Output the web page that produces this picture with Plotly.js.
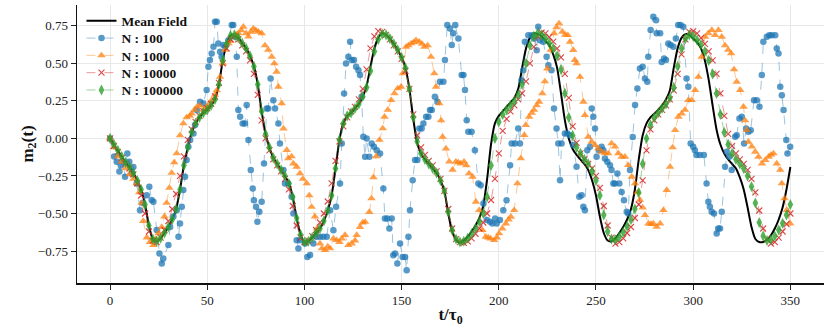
<!DOCTYPE html>
<html>
<head>
<meta charset="utf-8">
<script src="https://cdn.plot.ly/plotly-3.0.1.min.js"></script>
<style>html,body{margin:0;padding:0;background:#fff;}#chart{width:830px;height:336px;}</style>
</head>
<body>
<div id="chart"></div>
<script>
// time grid (t/tau0) shared by the mean-field curve and the N=10000 / N=100000 runs
const tGrid = [];
for (let t = 0; t <= 350; t += 2) tGrid.push(t);

const meanField = [
  0, -0.04, -0.08, -0.12, -0.16, -0.19, -0.23, -0.28, -0.34, -0.44,
  -0.58, -0.67, -0.685, -0.665, -0.63, -0.59, -0.54, -0.47, -0.34, -0.18,
  -0.06, 0.04, 0.10, 0.14, 0.17, 0.19, 0.22, 0.26, 0.36, 0.52,
  0.63, 0.685, 0.69, 0.67, 0.635, 0.6, 0.55, 0.48, 0.36, 0.18,
  0.03, -0.06, -0.13, -0.17, -0.21, -0.25, -0.3, -0.39, -0.53, -0.64,
  -0.69, -0.685, -0.66, -0.63, -0.6, -0.55, -0.48, -0.38, -0.2, -0.01,
  0.10, 0.15, 0.17, 0.2, 0.23, 0.28, 0.35, 0.48, 0.6, 0.67,
  0.7, 0.69, 0.665, 0.63, 0.59, 0.54, 0.47, 0.33, 0.13, -0.03,
  -0.1, -0.14, -0.17, -0.2, -0.23, -0.28, -0.35, -0.5, -0.62, -0.675,
  -0.695, -0.68, -0.655, -0.62, -0.58, -0.53, -0.45, -0.27, -0.04, 0.1,
  0.15, 0.18, 0.21, 0.24, 0.27, 0.33, 0.47, 0.6, 0.67, 0.7,
  0.695, 0.68, 0.65, 0.62, 0.56, 0.47, 0.3, 0.12, 0.0, -0.07,
  -0.11, -0.14, -0.17, -0.21, -0.28, -0.38, -0.52, -0.63, -0.68, -0.685,
  -0.665, -0.63, -0.59, -0.54, -0.47, -0.34, -0.14, 0.02, 0.1, 0.14,
  0.165, 0.19, 0.22, 0.26, 0.32, 0.47, 0.6, 0.67, 0.695, 0.69,
  0.665, 0.64, 0.6, 0.52, 0.39, 0.22, 0.06, -0.04, -0.1, -0.14,
  -0.17, -0.2, -0.26, -0.34, -0.46, -0.59, -0.67, -0.69, -0.69, -0.675,
  -0.645, -0.6, -0.54, -0.46, -0.34, -0.19
];

const m100000 = [
  0, -0.04, -0.08, -0.12, -0.16, -0.19, -0.23, -0.28, -0.34, -0.44,
  -0.58, -0.67, -0.685, -0.665, -0.63, -0.59, -0.54, -0.47, -0.34, -0.18,
  -0.06, 0.04, 0.10, 0.14, 0.17, 0.19, 0.22, 0.26, 0.36, 0.52,
  0.63, 0.685, 0.69, 0.67, 0.635, 0.6, 0.55, 0.48, 0.36, 0.18,
  0.03, -0.06, -0.13, -0.17, -0.21, -0.25, -0.3, -0.39, -0.53, -0.64,
  -0.69, -0.685, -0.66, -0.63, -0.6, -0.55, -0.48, -0.38, -0.2, -0.01,
  0.10, 0.15, 0.17, 0.2, 0.23, 0.28, 0.34, 0.45, 0.58, 0.66,
  0.695, 0.69, 0.665, 0.63, 0.59, 0.54, 0.47, 0.33, 0.14, -0.02,
  -0.1, -0.14, -0.17, -0.2, -0.23, -0.28, -0.35, -0.49, -0.61, -0.67,
  -0.69, -0.685, -0.665, -0.635, -0.6, -0.555, -0.5, -0.39, -0.18, 0.0,
  0.11, 0.16, 0.19, 0.22, 0.25, 0.29, 0.36, 0.5, 0.62, 0.68,
  0.7, 0.69, 0.665, 0.635, 0.6, 0.55, 0.46, 0.3, 0.14, 0.02,
  -0.06, -0.1, -0.14, -0.17, -0.22, -0.28, -0.38, -0.51, -0.62, -0.67,
  -0.675, -0.655, -0.625, -0.585, -0.54, -0.47, -0.36, -0.17, 0.0, 0.09,
  0.14, 0.17, 0.2, 0.23, 0.27, 0.34, 0.48, 0.6, 0.665, 0.69,
  0.68, 0.655, 0.625, 0.58, 0.52, 0.43, 0.3, 0.16, 0.04, -0.04,
  -0.1, -0.14, -0.17, -0.2, -0.25, -0.32, -0.43, -0.56, -0.65, -0.68,
  -0.675, -0.65, -0.61, -0.565, -0.51, -0.44
];

const m10000 = [
  0, -0.05, -0.09, -0.13, -0.17, -0.2, -0.24, -0.3, -0.38, -0.5,
  -0.62, -0.68, -0.69, -0.66, -0.61, -0.55, -0.47, -0.37, -0.25, -0.12,
  -0.01, 0.06, 0.11, 0.15, 0.18, 0.2, 0.23, 0.28, 0.37, 0.5,
  0.6, 0.66, 0.68, 0.66, 0.62, 0.58, 0.52, 0.43, 0.29, 0.12,
  0.0, -0.08, -0.14, -0.18, -0.22, -0.27, -0.34, -0.45, -0.58, -0.66,
  -0.69, -0.68, -0.65, -0.61, -0.56, -0.5, -0.42, -0.3, -0.15, -0.02,
  0.08, 0.14, 0.18, 0.21, 0.26, 0.33, 0.46, 0.6, 0.68, 0.715,
  0.71, 0.69, 0.66, 0.62, 0.58, 0.53, 0.45, 0.33, 0.16, 0.02,
  -0.06, -0.11, -0.15, -0.18, -0.22, -0.27, -0.35, -0.47, -0.6, -0.67,
  -0.69, -0.695, -0.685, -0.665, -0.635, -0.6, -0.56, -0.5, -0.41, -0.27,
  -0.1, 0.05, 0.13, 0.18, 0.22, 0.26, 0.3, 0.38, 0.5, 0.61,
  0.68, 0.705, 0.7, 0.675, 0.645, 0.6, 0.54, 0.43, 0.27, 0.08,
  -0.03, -0.1, -0.14, -0.17, -0.2, -0.25, -0.33, -0.45, -0.58, -0.66,
  -0.7, -0.69, -0.665, -0.63, -0.59, -0.53, -0.44, -0.28, -0.08, 0.06,
  0.12, 0.16, 0.19, 0.22, 0.26, 0.32, 0.43, 0.56, 0.66, 0.71,
  0.715, 0.7, 0.67, 0.63, 0.58, 0.52, 0.43, 0.3, 0.15, 0.03,
  -0.05, -0.1, -0.14, -0.17, -0.21, -0.27, -0.36, -0.48, -0.6, -0.67,
  -0.7, -0.69, -0.66, -0.62, -0.57, -0.5
];

const orangeT = [
  0,2,4,6,8,10,12,13.7,15,16.3,
  17.1,18.9,20.5,22.3,23.5,25,26.6,28,29.1,30.5,
  31.7,33,34.3,36,37.7,39.4,41,42,43.5,44.6,
  46.3,48,49.7,51,52.3,54,54.9,56.6,58,59.2,
  60.9,62,63.4,65,66,67.5,68.6,70,71.2,72.5,
  73.7,75,76.3,78,79.7,81.4,83.2,84.5,85.7,86.6,
  88.3,89.2,90.9,91.7,93.4,94.3,96,97.7,99.2,101.2,
  102.5,103.7,105.4,106.5,108,109,110.6,112,113.2,114.9,
  116.6,118,119.2,120.9,122.6,124.3,126,126.9,128.6,130,
  131.2,133.4,134.5,135.5,136.9,138.6,140.3,141.2,142.9,144.6,
  146.3,148,149.7,150.6,152.3,153.5,154.9,156.2,157.4,159.1,
  160.5,161.7,163.4,165.1,166.8,167.7,169.4,170.3,171.1,172.8,
  174.5,176.2,177.9,179.2,180.4,182.1,183.3,184.7,186.5,188.2,
  189.9,191.6,193.3,194.6,195.8,197.6,199,200.1,201.8,203.6,
  205,206.2,207.9,209.6,211.3,213.1,213.9,215.6,217,218.1,
  219.5,220.7,222.4,223.7,225,226.7,228.4,229.7,231,232.7,
  234.2,235.5,236.6,238.3,239.1,240,241.8,243.5,244.3,246,
  247.8,249.5,251.2,252.9,254.6,256.3,258,259.8,261.5,263.2,
  264.9,266.6,268.4,270.1,271.3,272.6,274,275.2,277,278.3,
  279.5,281.2,283,284.7,286.4,288.1,289.4,290.7,292.4,294.1,
  295.8,297.5,299.2,301,302.7,304.4,306.1,307.8,309.6,311.3,
  313,314.7,316.4,318,319.5,321,322.4,324.2,325.9,326.7,
  327.5,328.4,330.2,331.9,333.6,335.4,337.1,338.8,340,341.3,
  343,344.8,345.6,347,348.2,349.9
];
const m1000 = [
  0,-0.06,-0.12,-0.156,-0.2,-0.24,-0.27,-0.3,-0.36,-0.43,
  -0.55,-0.66,-0.69,-0.71,-0.67,-0.63,-0.59,-0.52,-0.43,-0.33,
  -0.23,-0.16,-0.1,0.02,0.1,0.14,0.15,0.166,0.19,0.21,
  0.22,0.19,0.21,0.23,0.255,0.29,0.32,0.41,0.5,0.59,
  0.633,0.65,0.678,0.69,0.7,0.72,0.744,0.7,0.678,0.71,
  0.733,0.72,0.71,0.7,0.62,0.59,0.544,0.5,0.444,0.344,
  0.233,0.066,-0.077,-0.133,-0.12,-0.167,-0.189,-0.233,-0.27,-0.3,
  -0.38,-0.456,-0.52,-0.6,-0.7,-0.733,-0.744,-0.72,-0.733,-0.667,
  -0.678,-0.69,-0.667,-0.644,-0.711,-0.7,-0.68,-0.644,-0.59,-0.56,
  -0.556,-0.49,-0.4,-0.26,-0.12,-0.01,0.067,0.144,0.19,0.255,
  0.3,0.333,0.344,0.433,0.61,0.62,0.633,0.64,0.655,0.644,
  0.63,0.61,0.62,0.544,0.433,0.344,0.233,0.12,0.01,-0.067,
  -0.155,-0.21,-0.155,-0.16,-0.167,-0.155,-0.18,-0.233,-0.256,-0.422,
  -0.478,-0.611,-0.655,-0.66,-0.667,-0.678,-0.66,-0.633,-0.6,-0.567,
  -0.54,-0.522,-0.478,-0.3,-0.133,0.022,0.089,0.144,0.17,0.19,
  0.22,0.244,0.3,0.38,0.466,0.59,0.7,0.74,0.766,0.71,
  0.69,0.688,0.644,0.589,0.522,0.5,0.41,0.244,0.155,0.01,
  -0.022,-0.044,-0.067,-0.089,-0.1,-0.1,-0.033,-0.055,-0.1,-0.122,
  -0.122,-0.178,-0.256,-0.3,-0.36,-0.41,-0.46,-0.511,-0.567,-0.57,
  -0.567,-0.589,-0.567,-0.478,-0.344,-0.189,-0.06,0.055,0.144,0.166,
  0.19,0.255,0.255,0.322,0.41,0.544,0.677,0.7,0.722,0.688,
  0.722,0.677,0.62,0.59,0.566,0.46,0.377,0.322,0.211,0.12,
  0.055,-0.022,-0.055,-0.089,-0.122,-0.167,-0.144,-0.122,-0.11,-0.1,
  -0.167,-0.21,-0.3,-0.4,-0.477,-0.567
];

const blueT = [
  0,2.1,3.4,4.8,5.5,6.9,7.7,8.9,9.9,11.1,
  12,13.7,15.4,16.8,18.9,20.2,21.4,22.3,24,25.4,
  26.6,27.4,30,30.9,32.6,34.3,35.2,36,36.9,37.7,
  38.6,39.4,40.3,41.2,42.9,43.7,44.6,46.3,48,49.7,
  50.6,51.4,52.3,53.2,54,54.9,55.7,56.6,57.4,58.3,
  59.2,60.9,62.6,63.4,64.3,65.2,66,66.9,68.2,69.4,
  70.3,71.2,72.4,73.4,74,75.1,75.8,76.8,78,79.2,
  80.6,81.4,82.6,84,84.9,86.6,87.4,89.2,90,91.7,
  93.4,94.3,96,96.9,97.7,100.3,101.5,102.9,104.6,106.3,
  108,109.7,111.5,
  113.2,114.9,116.3,118.3,119.2,120.4,121.4,122.6,123.5,124.3,
  125.5,126.6,127.8,128.6,129.4,130.3,131.2,132,133.4,134.6,
  135.8,137.2,138.9,140.6,141.4,142.6,143.7,144.9,145.7,146.6,
  147.8,149.2,150.5,151.8,152.6,153.5,154.3,155.7,156.9,158.1,
  159.1,160.3,161.2,162.6,163.8,164.6,165.5,167.1,168.4,169.7,
  171.5,172.3,173.5,174.9,175.8,176.6,177.6,179.2,180.9,181.8,
  182.6,183.5,184.3,186,187.7,189.5,190.7,192.1,193.8,195.5,
  196.7,198.1,198.9,200.6,202.3,204,205.8,206.6,208.3,210,
  210.9,211.7,212.6,213.4,215.2,216.9,218.1,219.5,220.3,221.2,
  222.8,224.6,225.5,227.1,228.4,229.7,230.6,
  231.5,232.3,234,235.3,236.6,238.3,240,241.4,242.6,243.5,
  244.3,245.5,246.9,247.8,248.6,249.5,250.3,251.7,252.9,253.8,
  254.6,255.8,257.2,258,258.9,259.8,261,262,263.2,264.4,
  265.8,266.6,267.5,268.9,270.1,271.3,272.6,274,275.2,276.4,
  276.9,278.1,279.5,280.9,281.2,283,283.8,285,286,287.2,
  288.4,289.8,291.1,292.3,293.5,294.9,296.6,297.5,298.7,300,
  300.9,301.7,303.4,305.5,306.9,307.8,308.6,309.5,310.7,312.1,
  312.9,313.8,314.7,316.4,317.3,318.6,319.8,321.6,322.4,323.8,
  325,326.2,327.2,328.4,329.6,331.3,332.7,334.1,335.3,336.1,
  337.9,339.2,340.4,342.2,343,343.9,344.8,345.6,346.5,347.9,
  348.5,349.9
];
const m100 = [
  0,-0.12,-0.156,-0.22,-0.18,-0.156,-0.256,-0.1,-0.156,-0.233,
  -0.19,-0.3,-0.478,-0.43,-0.378,-0.322,-0.41,-0.422,-0.61,-0.766,
  -0.833,-0.8,-0.71,-0.59,-0.52,-0.478,-0.655,-0.566,-0.455,-0.344,
  -0.256,-0.144,-0.055,-0.011,0.033,0.089,0.19,0.244,0.233,0.322,
  0.478,0.522,0.566,0.611,0.777,0.777,0.633,0.577,0.544,0.622,
  0.611,0.655,0.755,0.755,0.677,0.544,0.189,0.144,0.1,0.1,
  0.222,-0.011,-0.211,-0.333,-0.411,-0.455,-0.555,-0.489,-0.422,-0.167,
  0.2,0.2,0.4,0.255,0.2,0.1,-0.033,-0.211,-0.3,-0.3,
  -0.389,-0.5,-0.678,-0.733,-0.678,-0.7,-0.789,-0.777,-0.7,-0.655,
  -0.655,-0.655,-0.655,
  -0.478,-0.611,-0.455,-0.3,-0.033,0.3,0.5,0.544,0.644,0.522,
  0.522,0.477,0.455,0.422,0.278,0.011,-0.122,0,-0.122,-0.033,
  -0.055,-0.078,-0.1,-0.333,-0.533,-0.533,-0.6,-0.533,-0.778,-0.766,
  -0.833,-0.7,-0.79,-0.79,-0.878,-0.655,-0.478,-0.278,-0.144,-0.144,
  0.066,0.066,0.1,0.144,0.144,0.189,0.189,0.277,0.244,0.377,
  0.377,0.522,0.755,0.733,0.622,0.7,0.755,0.666,0.422,0.422,
  0.322,0.122,0.044,0.044,-0.078,-0.3,-0.311,-0.433,-0.544,-0.555,
  -0.566,-0.533,-0.566,-0.544,-0.478,-0.411,-0.178,-0.033,-0.033,0.066,
  -0.033,0.388,0.455,0.644,0.688,0.688,0.666,0.588,0.744,0.655,
  0.644,0.544,0.488,0.455,0.2,0.066,-0.033,
  -0.278,-0.033,0.033,0.033,0.022,-0.044,-0.189,-0.389,-0.378,-0.455,
  -0.478,-0.078,-0.055,0.2,0.144,0.066,-0.122,-0.078,-0.055,-0.078,
  -0.133,-0.155,-0.178,-0.21,-0.3,-0.3,-0.233,-0.3,-0.356,-0.411,
  -0.489,-0.5,-0.21,0.01,0.222,0.333,0.466,0.477,0.4,0.377,
  0.544,0.722,0.811,0.788,0.7,0.7,0.51,0.533,0.522,0.633,
  0.622,0.611,0.666,0.755,0.755,0.744,0.4,0.344,-0.033,-0.055,
  -0.078,-0.111,-0.111,-0.111,-0.3,-0.422,-0.455,-0.489,-0.5,-0.633,
  -0.6,-0.6,-0.489,-0.189,-0.089,-0.122,-0.21,0.011,0.022,0.133,
  0.144,-0.033,0.066,0.044,0.055,0.255,0.255,0.211,0.422,0.644,
  0.677,0.688,0.688,0.688,0.6,0.566,0.344,0.288,0.189,-0.011,
  -0.1,-0.055
];

const seriesNames = ['Mean Field', 'N : 100', 'N : 1000', 'N : 10000', 'N : 100000'];
const xTicks = [0, 50, 100, 150, 200, 250, 300, 350];
const yTicks = [-0.75, -0.5, -0.25, 0, 0.25, 0.5, 0.75];

const serif = 'Liberation Serif, Times New Roman, serif';

const traces = [
  {x: tGrid, y: meanField, name: seriesNames[0], mode: 'lines', legend: 'legend',
   line: {color: '#000000', width: 2, shape: 'spline', smoothing: 0.6}},
  {x: blueT, y: m100, name: seriesNames[1], mode: 'lines+markers', legend: 'legend2',
   line: {color: 'rgba(31,119,180,0.55)', width: 0.8, dash: 'dash'},
   marker: {symbol: 'circle', size: 6.5, color: 'rgba(31,119,180,0.75)'}},
  {x: orangeT, y: m1000, name: seriesNames[2], mode: 'lines+markers', legend: 'legend3',
   line: {color: 'rgba(255,127,14,0.55)', width: 0.8, dash: 'dash'},
   marker: {symbol: 'triangle-up', size: 7.5, color: 'rgba(255,127,14,0.75)'}},
  {x: tGrid, y: m10000, name: seriesNames[3], mode: 'lines+markers', legend: 'legend4',
   line: {color: 'rgba(214,39,40,0.6)', width: 0.8, dash: 'dash'},
   marker: {symbol: 'x-thin-open', size: 6, color: 'rgba(214,39,40,0.85)', line: {width: 1.1, color: 'rgba(214,39,40,0.85)'}}},
  {x: tGrid, y: m100000, name: seriesNames[4], mode: 'lines+markers', legend: 'legend5',
   line: {color: 'rgba(44,160,44,0.6)', width: 0.8, dash: 'dash'},
   marker: {symbol: 'diamond-tall', size: 8, color: 'rgba(44,160,44,0.8)'}}
];

// one legend box per entry so the rows can sit as tightly as in the original
const rowCenters = [21, 38.3, 55.6, 72.9, 90.2]; // px from top of figure
const plotTop = 5, plotH = 336 - 5 - 53;
function legendBox(i) {
  return {x: 0.006, y: 1 - (rowCenters[i] - plotTop) / plotH, xanchor: 'left', yanchor: 'middle',
          bgcolor: 'rgba(255,255,255,0)', borderwidth: 0,
          font: {family: serif, size: 13.5, color: '#111', weight: 'bold'},
          itemwidth: 30};
}

const layout = {
  width: 830, height: 336,
  margin: {l: 77, r: 6, t: 5, b: 53},
  paper_bgcolor: '#ffffff', plot_bgcolor: '#ffffff',
  font: {family: serif, size: 13, color: '#222'},
  showlegend: true,
  legend: legendBox(0), legend2: legendBox(1), legend3: legendBox(2), legend4: legendBox(3), legend5: legendBox(4),
  xaxis: {range: [-17, 367.3], tickvals: xTicks, ticks: 'outside', ticklen: 5, tickwidth: 1,
          tickcolor: '#222', showline: true, linecolor: '#111', linewidth: 1.5,
          showgrid: true, gridcolor: '#e8e8e8', gridwidth: 1, zeroline: false, mirror: false,
          tickfont: {family: serif, size: 13, color: '#222'},
          title: {text: '<b>t/τ</b><sub><b>0</b></sub>', font: {family: serif, size: 17, color: '#111'}, standoff: 1}},
  yaxis: {range: [-0.963, 0.889], tickvals: yTicks, tickformat: '.2f', ticks: 'outside', ticklen: 5, tickwidth: 1,
          tickcolor: '#222', showline: true, linecolor: '#111', linewidth: 1.5,
          showgrid: true, gridcolor: '#e8e8e8', gridwidth: 1, zeroline: false, mirror: false,
          tickfont: {family: serif, size: 13, color: '#222'},
          title: {text: '<b>m</b><sub><b>2</b></sub><b>(t)</b>', font: {family: serif, size: 17, color: '#111'}, standoff: 0}}
};

Plotly.newPlot('chart', traces, layout, {staticPlot: true, displayModeBar: false});
</script>
</body>
</html>
